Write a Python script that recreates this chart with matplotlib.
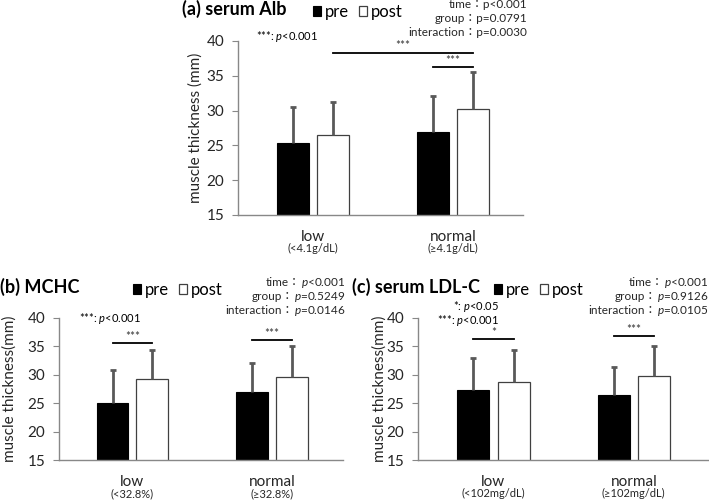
import numpy as np
import matplotlib
matplotlib.use("Agg")
import matplotlib.pyplot as plt

plt.rcParams['font.family'] = ['Lato', 'Noto Sans CJK JP', 'DejaVu Sans']
plt.rcParams['mathtext.fontset'] = 'custom'
plt.rcParams['mathtext.rm'] = 'Lato'
plt.rcParams['mathtext.it'] = 'Lato:italic'

W, H = 709, 501

# %% data
groups = ["low", "normal"]
stat_names = ["time", "group", "interaction"]

# (a) serum Alb
sub_a = ["(<4.1g/dL)", "(≥4.1g/dL)"]
pre_a = [25.4, 26.9]
pre_sd_a = [5.1, 5.2]
post_a = [26.5, 30.3]
post_sd_a = [4.7, 5.3]
stats_a = ["<0.001", "=0.0791", "=0.0030"]
# (group, series 0=pre 1=post) -> (group, series), height, label
sig_a = [((0, 1), (1, 1), 38.3, "***"), ((1, 0), (1, 1), 36.2, "***")]

# (b) MCHC
sub_b = ["(<32.8%)", "(≥32.8%)"]
pre_b = [25.0, 27.0]
pre_sd_b = [5.8, 5.0]
post_b = [29.3, 29.5]
post_sd_b = [5.0, 5.6]
stats_b = ["<0.001", "=0.5249", "=0.0146"]
sig_b = [((0, 0), (0, 1), 35.6, "***"), ((1, 0), (1, 1), 36.1, "***")]

# (c) serum LDL-C
sub_c = ["(<102mg/dL)", "(≥102mg/dL)"]
pre_c = [27.3, 26.5]
pre_sd_c = [5.7, 4.9]
post_c = [28.7, 29.8]
post_sd_c = [5.6, 5.3]
stats_c = ["<0.001", "=0.9126", "=0.0105"]
sig_c = [((0, 0), (0, 1), 36.25, "*"), ((1, 0), (1, 1), 36.8, "***")]

BW = 0.2286
OFF = 0.143
ERR_COL = '#595959'
AX_COL = '#888888'

fig = plt.figure(figsize=(W / 100, H / 100), dpi=100)
renderer = fig.canvas.get_renderer()


def panel(rect, xlim, pre, pre_sd, post, post_sd, subs, sig, ylabel, label_x):
    ax = fig.add_axes(rect)
    x = np.arange(len(groups))
    b1 = ax.bar(x - OFF, pre, BW, color='black', edgecolor='black', lw=0.8, label='pre')
    b2 = ax.bar(x + OFF, post, BW, color='white', edgecolor='#404040', lw=0.9, label='post')
    for xs, v, sd in [(x - OFF, pre, pre_sd), (x + OFF, post, post_sd)]:
        top = np.array(v) + np.array(sd)
        ax.vlines(xs, v, top, color=ERR_COL, lw=2, zorder=3)
        ax.plot(xs, top, ls='none', marker='_', ms=4, mew=2, color=ERR_COL, zorder=3)
    ax.set_ylim(15, 40)
    ax.set_xlim(*xlim)
    ax.set_yticks(range(15, 41, 5))
    ax.set_xticks([])
    for s in ['top', 'right']:
        ax.spines[s].set_visible(False)
    for s in ['left', 'bottom']:
        ax.spines[s].set_color(AX_COL)
        ax.spines[s].set_linewidth(1.0)
    ax.tick_params(axis='y', length=4, width=0.8, color=AX_COL, labelsize=11,
                   pad=6, labelcolor='#262626')
    ax.set_ylabel(ylabel, fontsize=11, color='#262626')
    ax.yaxis.set_label_coords(label_x, 0.5)
    for i, (g, s) in enumerate(zip(groups, subs)):
        ax.annotate(g, xy=(i, 0), xycoords=ax.get_xaxis_transform(), xytext=(0, -15.5),
                    textcoords='offset points', ha='center', va='center', fontsize=11,
                    color='#262626')
        ax.annotate(s, xy=(i, 0), xycoords=ax.get_xaxis_transform(), xytext=(0, -24.2),
                    textcoords='offset points', ha='center', va='center', fontsize=8,
                    color='#262626')
    for (g1, s1), (g2, s2), y, lab in sig:
        x1 = g1 + (OFF if s1 else -OFF)
        x2 = g2 + (OFF if s2 else -OFF)
        ax.plot([x1, x2], [y, y], color='black', lw=1.3, clip_on=False)
        ax.text((x1 + x2) / 2, y + 0.2, lab, ha='center', va='bottom', fontsize=8.5,
                color='#333333')
    return ax, b1, b2


def legend(b1, b2, x_px, y_px):
    fig.legend(handles=[b1, b2], labels=['pre', 'post'], loc='center left',
               bbox_to_anchor=(x_px / W, 1 - y_px / H), bbox_transform=fig.transFigure,
               ncol=2, frameon=False, fontsize=12, handlelength=0.5, handleheight=0.5,
               handletextpad=0.2, columnspacing=0.6, borderpad=0, borderaxespad=0)


def stat_lines(x_px, y_px, values, italic):
    for k, (name, val) in enumerate(zip(stat_names, values)):
        yb = 1 - (y_px + k * 14.2) / H
        if italic:
            t = fig.text(x_px / W, yb, "$p$" + val, ha='right', va='baseline',
                         fontsize=8.5, family='Lato', color='#262626')
            x0 = t.get_window_extent(renderer).x0
            fig.text(x0 / W, yb, name + "：", ha='right', va='baseline', fontsize=8.5,
                     color='#262626')
        else:
            fig.text(x_px / W, yb, name + "：p" + val, ha='right', va='baseline',
                     fontsize=8.5, color='#262626')


# %% (a)
ax_a, b1, b2 = panel([238 / W, (H - 215) / H, 285 / W, 174 / H], (-0.536, 1.5),
                     pre_a, pre_sd_a, post_a, post_sd_a, sub_a, sig_a,
                     "muscle thickness (mm)", -0.123)
fig.text(182 / W, 1 - 9 / H, "(a) serum Alb", fontsize=13, fontweight='bold', va='center')
legend(b1, b2, 313, 12)
stat_lines(527, 8, stats_a, italic=False)
fig.text(256 / W, 1 - 37 / H, "***: $p$<0.001", fontsize=8, family='Lato', va='center')

# %% (b)
ax_b, b1, b2 = panel([59 / W, 41 / H, 284 / W, 142.3 / H], (-0.526, 1.507),
                     pre_b, pre_sd_b, post_b, post_sd_b, sub_b, sig_b,
                     "muscle thickness(mm)", -0.148)
fig.text(0 / W, 1 - 287 / H, "(b) MCHC", fontsize=13, fontweight='bold', va='center')
legend(b1, b2, 133, 290)
stat_lines(345, 286, stats_b, italic=True)
fig.text(79 / W, 1 - 319 / H, "***: $p$<0.001", fontsize=8, family='Lato', va='center')

# %% (c)
ax_c, b1, b2 = panel([418 / W, 41 / H, 290 / W, 142.3 / H], (-0.538, 1.529),
                     pre_c, pre_sd_c, post_c, post_sd_c, sub_c, sig_c,
                     "muscle thickness(mm)", -0.107)
fig.text(352 / W, 1 - 287 / H, "(c) serum LDL-C", fontsize=13, fontweight='bold', va='center')
legend(b1, b2, 494, 290)
stat_lines(708, 286, stats_c, italic=True)
fig.text(499 / W, 1 - 306 / H, "*: $p$<0.05", fontsize=8, family='Lato', va='center', ha='right')
fig.text(499 / W, 1 - 320 / H, "***: $p$<0.001", fontsize=8, family='Lato', va='center', ha='right')

fig.savefig("out.png", dpi=100)
